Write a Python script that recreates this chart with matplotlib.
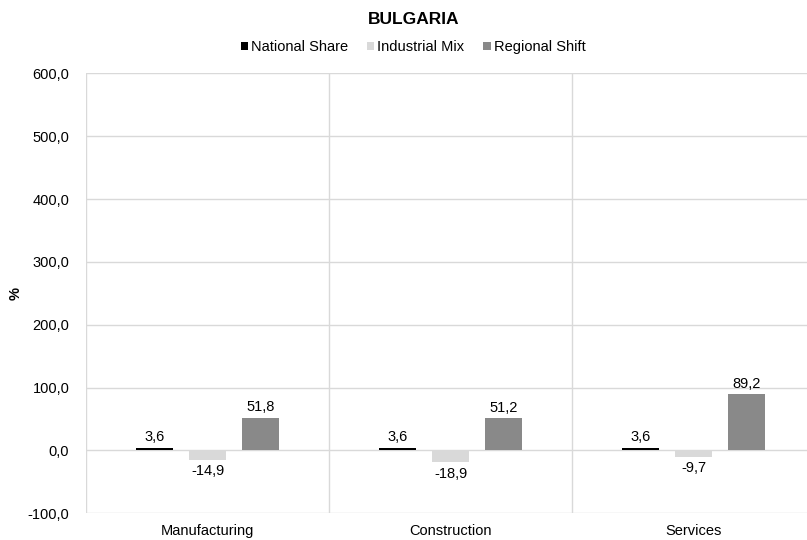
import matplotlib

matplotlib.use("Agg")
import matplotlib.pyplot as plt
import numpy as np

plt.rcParams["font.family"] = ["Liberation Sans", "DejaVu Sans"]

categories = ["Manufacturing", "Construction", "Services"]
series_names = ["National Share", "Industrial Mix", "Regional Shift"]
national_share = [3.6, 3.6, 3.6]
industrial_mix = [-14.9, -18.9, -9.7]
regional_shift = [51.8, 51.2, 89.2]
colors = ["#000000", "#D9D9D9", "#898989"]

fig = plt.figure(figsize=(8.07, 5.4), dpi=100)
# plot area runs a bit past the right edge, as in the source
ax = fig.add_axes([0.1066, 0.0494, 0.9033, 0.8148])

x = np.arange(len(categories))
width = 0.154
offsets = [-0.219, 0.0, 0.219]
for vals, name, col, off in zip(
    [national_share, industrial_mix, regional_shift], series_names, colors, offsets
):
    bars = ax.bar(x + off, vals, width, color=col, label=name, zorder=3)
    for b, v in zip(bars, vals):
        y = v + 6 if v >= 0 else v - 7
        va = "bottom" if v >= 0 else "top"
        ax.text(b.get_x() + b.get_width() / 2, y, f"{v:.1f}".replace(".", ","),
                ha="center", va=va, fontsize=10.5, color="#000000", zorder=4)

ax.set_xlim(-0.5, 2.5)
ax.set_ylim(-100, 600)
ticks = np.arange(-100, 601, 100)
ax.set_yticks(ticks)
ax.set_yticklabels([f"{t:.1f}".replace(".", ",") for t in ticks])
ax.set_xticks(x)
ax.set_xticklabels(categories)
ax.tick_params(axis="both", length=0, labelsize=10.5, colors="#000000")
ax.tick_params(axis="y", pad=12)
ax.tick_params(axis="x", pad=8)

ax.grid(axis="y", color="#D9D9D9", linewidth=1, zorder=0)
for sep in [-0.5, 0.5, 1.5]:
    ax.axvline(sep, color="#D9D9D9", linewidth=1, zorder=0)
for s in ax.spines.values():
    s.set_visible(False)

ax.set_ylabel("%", fontsize=10.5, fontweight="bold")
ax.yaxis.set_label_coords(-0.087, 0.5)

fig.text(0.512, 0.964, "BULGARIA", ha="center", va="center", fontsize=12.5, fontweight="bold")
fig.legend(loc="center", bbox_to_anchor=(0.512, 0.913), ncol=3, frameon=False,
           fontsize=10.5, handlelength=0.5, handleheight=0.5, handletextpad=0.2,
           columnspacing=1.3)

fig.savefig("out.png", dpi=100)
